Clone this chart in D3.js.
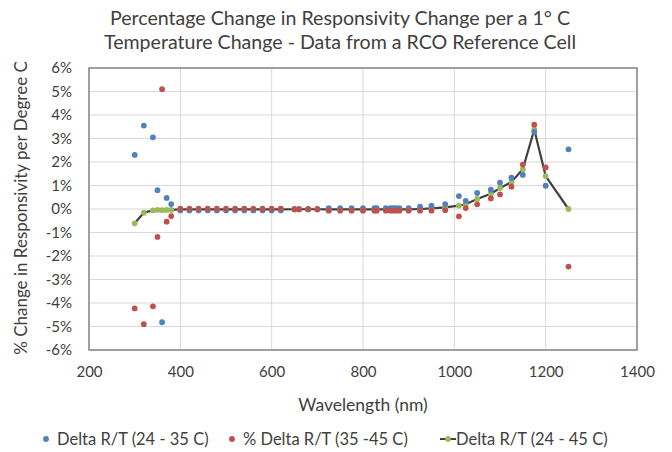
<!DOCTYPE html>
<html>
<head>
<meta charset="utf-8">
<script src="https://cdn.jsdelivr.net/npm/d3@7"></script>
<style>
  body { margin: 0; background: #fff; }
  text { font-family: Lato, "Open Sans", sans-serif; fill: #404040; }
</style>
</head>
<body>
<script>
// wavelengths (nm)
const wavelength = [300, 320, 340, 350, 360, 370, 380,
  400, 420, 440, 460, 480, 500, 520, 540, 560, 580, 600, 620,
  650, 660, 680, 700,
  725, 750, 775, 800, 825, 830, 850, 860, 866, 872, 880, 900,
  925, 950, 980, 1010, 1025, 1050, 1080, 1100, 1125, 1150, 1175, 1200, 1250];

// % change per degree C
const delta24to35 = [2.3, 3.55, 3.05, 0.8, -4.82, 0.47, 0.21,
  -0.06, -0.06, -0.06, -0.06, -0.06, -0.06, -0.06, -0.06, -0.06, -0.06, -0.06, -0.06,
  -0.01, -0.01, -0.01, -0.01,
  0.04, 0.04, 0.04, 0.04, 0.04, 0.04, 0.04, 0.04, 0.04, 0.04, 0.04, 0.04,
  0.1, 0.14, 0.21, 0.55, 0.35, 0.68, 0.82, 1.12, 1.33, 1.45, 3.28, 0.99, 2.54];

const delta35to45 = [-4.23, -4.9, -4.14, -1.19, 5.1, -0.54, -0.3,
  0.01, 0.01, 0.01, 0.01, 0.01, 0.01, 0.01, 0.01, 0.01, 0.01, 0.01, 0.01,
  -0.01, -0.01, -0.01, -0.01,
  -0.07, -0.07, -0.07, -0.07, -0.07, -0.07, -0.07, -0.07, -0.07, -0.07, -0.07, -0.07,
  -0.07, -0.07, -0.05, -0.31, 0.04, 0.2, 0.45, 0.62, 0.95, 1.89, 3.59, 1.77, -2.45];

const delta24to45 = [-0.61, -0.16, -0.06, -0.04, -0.05, -0.04, -0.04,
  -0.02, -0.02, -0.02, -0.02, -0.02, -0.02, -0.02, -0.02, -0.02, -0.02, -0.02, -0.02,
  -0.01, -0.01, -0.01, -0.01,
  -0.02, -0.02, -0.02, -0.02, -0.02, -0.02, -0.02, -0.02, -0.02, -0.02, -0.02, -0.02,
  0.0, 0.03, 0.07, 0.14, 0.2, 0.43, 0.65, 0.89, 1.15, 1.69, 3.38, 1.4, 0.0];

const xTicks = [200, 400, 600, 800, 1000, 1200, 1400];
const yTicks = [-6, -5, -4, -3, -2, -1, 0, 1, 2, 3, 4, 5, 6];

const titleLines = ["Percentage Change in Responsivity Change per a 1° C",
  "Temperature Change - Data from a RCO Reference Cell"];
const seriesNames = ["Delta R/T (24 - 35 C)", "% Delta R/T (35 -45 C)", "Delta R/T (24 - 45 C)"];

const width = 672, height = 452;
const margin = {top: 68, right: 35, bottom: 102, left: 89};

const svg = d3.select("body").append("svg")
  .attr("width", width)
  .attr("height", height);

const x = d3.scaleLinear().domain([200, 1400]).range([margin.left, width - margin.right]);
const y = d3.scaleLinear().domain([-6, 6]).range([height - margin.bottom, margin.top]);

const pct = d => d + "%";

// gridlines
svg.append("g")
  .selectAll("line")
  .data(yTicks)
  .join("line")
  .attr("x1", x(200)).attr("x2", x(1400))
  .attr("y1", d => y(d)).attr("y2", d => y(d))
  .attr("stroke", "#d9d9d9").attr("stroke-width", 1);

svg.append("g")
  .selectAll("line")
  .data(xTicks)
  .join("line")
  .attr("x1", d => x(d)).attr("x2", d => x(d))
  .attr("y1", y(-6)).attr("y2", y(6))
  .attr("stroke", "#d9d9d9").attr("stroke-width", 1);

// axes (labels only)
const yAxis = svg.append("g")
  .attr("transform", `translate(${margin.left},0)`)
  .call(d3.axisLeft(y).tickValues(yTicks).tickFormat(pct).tickSize(0).tickPadding(17));
const xAxis = svg.append("g")
  .attr("transform", `translate(0,${y(-6)})`)
  .call(d3.axisBottom(x).tickValues(xTicks).tickFormat(d => d).tickSize(0).tickPadding(16));
[xAxis, yAxis].forEach(a => {
  a.select(".domain").remove();
  a.selectAll("text").attr("font-size", 15).attr("fill", "#404040")
    .attr("font-family", "Lato, 'Open Sans', sans-serif");
});

// plot border
svg.append("rect")
  .attr("x", x(200)).attr("y", y(6))
  .attr("width", x(1400) - x(200)).attr("height", y(-6) - y(6))
  .attr("fill", "none").attr("stroke", "#868686").attr("stroke-width", 1.5);

const colors = ["#4F81BD", "#C0504D", "#9BBB59"];
const series = [delta24to35, delta35to45, delta24to45];

// line series
const line = d3.line().x((d, i) => x(wavelength[i])).y(d => y(d));
svg.append("path")
  .datum(delta24to45)
  .attr("d", line)
  .attr("fill", "none")
  .attr("stroke", "#404040")
  .attr("stroke-width", 2.2);

// markers: green first, then blue, red
[2, 0, 1].forEach(k => {
  svg.append("g")
    .selectAll("circle")
    .data(series[k])
    .join("circle")
    .attr("cx", (d, i) => x(wavelength[i]))
    .attr("cy", d => y(d))
    .attr("r", 2.9)
    .attr("fill", colors[k]);
});

// title
svg.append("text")
  .attr("x", 340).attr("y", 25)
  .attr("text-anchor", "middle")
  .attr("font-size", 19.6)
  .selectAll("tspan")
  .data(titleLines)
  .join("tspan")
  .attr("x", 340)
  .attr("dy", (d, i) => i ? 24 : 0)
  .text(d => d);

// axis titles
svg.append("text")
  .attr("transform", `translate(27,${(y(6) + y(-6)) / 2 - 1}) rotate(-90)`)
  .attr("text-anchor", "middle")
  .attr("font-size", 17)
  .text("% Change in Responsivity per Degree C");

svg.append("text")
  .attr("x", x(800)).attr("y", 411)
  .attr("text-anchor", "middle")
  .attr("font-size", 17.5)
  .text("Wavelength (nm)");

// legend
const legend = svg.append("g").attr("transform", "translate(0,439)");
const legX = [46, 232, 440];
seriesNames.forEach((name, k) => {
  const g = legend.append("g").attr("transform", `translate(${legX[k]},0)`);
  if (k === 2) {
    g.append("line").attr("x1", 0).attr("x2", 16).attr("y1", 0).attr("y2", 0)
      .attr("stroke", "#404040").attr("stroke-width", 2);
    g.append("circle").attr("cx", 8).attr("cy", 0).attr("r", 2.9).attr("fill", colors[k]);
    g.append("text").attr("x", 16).attr("y", 5.5).attr("font-size", 16.5).text(name);
  } else {
    g.append("circle").attr("cx", 0).attr("cy", 0).attr("r", 2.9).attr("fill", colors[k]);
    g.append("text").attr("x", 11).attr("y", 5.5).attr("font-size", 16.5).text(name);
  }
});
</script>
</body>
</html>
